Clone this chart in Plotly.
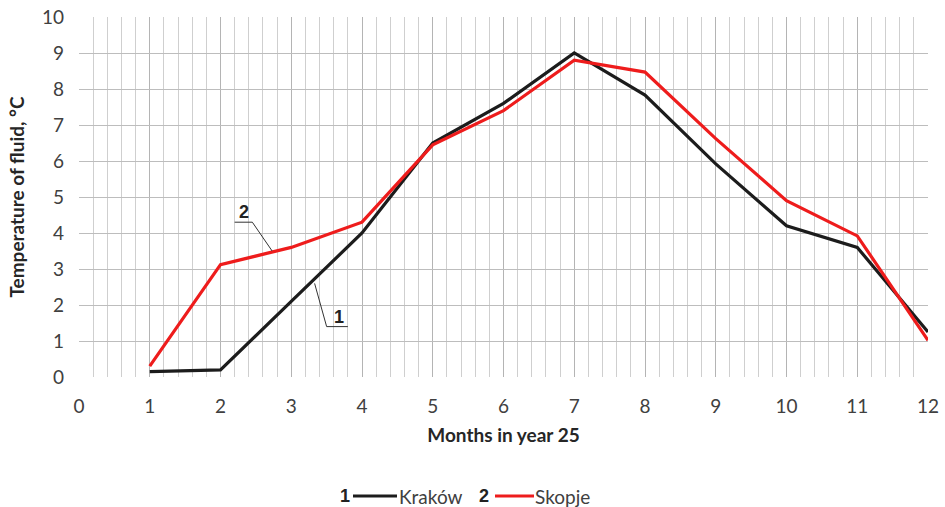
import plotly.graph_objects as go

months = [1, 2, 3, 4, 5, 6, 7, 8, 9, 10, 11, 12]
krakow = [0.15, 0.2, 2.1, 4.0, 6.5, 7.6, 9.0, 7.83, 5.92, 4.2, 3.6, 1.25]
skopje = [0.3, 3.12, 3.6, 4.3, 6.45, 7.4, 8.8, 8.47, 6.62, 4.9, 3.92, 1.02]
x_ticks = list(range(0, 13))
y_ticks = list(range(0, 11))

tick_font = dict(family="Lato, Open Sans, sans-serif", size=19, color="#404040")
title_font = dict(family="Lato, Liberation Sans, sans-serif", size=19, color="#262626")

fig = go.Figure()
fig.add_trace(go.Scatter(x=months, y=krakow, mode="lines", name="Kraków",
                         line=dict(color="#1c1c1c", width=3.2), showlegend=False))
fig.add_trace(go.Scatter(x=months, y=skopje, mode="lines", name="Skopje",
                         line=dict(color="#ee1c1c", width=3.2), showlegend=False))

fig.update_xaxes(range=[0, 12], tickvals=x_ticks, showgrid=True, gridcolor="#b4b4b4", gridwidth=1.3,
                 minor=dict(dtick=0.2, showgrid=True, gridcolor="#cfcfcf", gridwidth=1),
                 zeroline=False, showline=False, ticks="", tickfont=tick_font,
                 ticklabelstandoff=16, automargin=False,
                 title=dict(text="<b>Months in year 25</b>", font=title_font, standoff=12))
fig.update_yaxes(range=[0, 10], tickvals=y_ticks, showgrid=True, gridcolor="#bdbdbd", gridwidth=1.3,
                 zeroline=False, showline=False, ticks="", tickfont=tick_font,
                 ticklabelstandoff=14, automargin=False,
                 title=dict(text="<b>Temperature of fluid, °C</b>", font=title_font, standoff=12))

# leader lines with curve numbers
leader = dict(color="#333333", width=1)
fig.add_shape(type="line", x0=2.2, y0=4.3, x1=2.45, y1=4.3, line=leader)
fig.add_shape(type="line", x0=2.45, y0=4.3, x1=2.73, y1=3.5, line=leader)
fig.add_annotation(x=2.33, y=4.3, text="<b>2</b>", showarrow=False, yanchor="bottom", yshift=-2,
                   font=dict(family="Liberation Sans, Arial", size=18, color="#222222"))
fig.add_shape(type="line", x0=3.5, y0=1.4, x1=3.8, y1=1.4, line=leader)
fig.add_shape(type="line", x0=3.5, y0=1.4, x1=3.33, y1=2.6, line=leader)
fig.add_annotation(x=3.67, y=1.4, text="<b>1</b>", showarrow=False, yanchor="bottom", yshift=-2,
                   font=dict(family="Liberation Sans, Arial", size=18, color="#222222"))

# legend drawn below the plot
def px_x(p):
    return (p - 79) / 849

leg_y = -(496 - 377) / 360
lg_num = dict(family="Liberation Sans, Arial", size=18, color="#222222")
lg_txt = dict(family="Lato, Open Sans, sans-serif", size=19, color="#404040")
fig.add_annotation(xref="paper", yref="paper", x=px_x(338), y=leg_y, yanchor="middle",
                   text="<b>1</b>", showarrow=False, font=lg_num)
fig.add_shape(type="line", xref="paper", yref="paper", x0=px_x(353), x1=px_x(397), y0=leg_y, y1=leg_y,
              line=dict(color="#1c1c1c", width=3))
fig.add_annotation(xref="paper", yref="paper", x=px_x(397), y=leg_y, xanchor="left", yanchor="middle",
                   text="Kraków", showarrow=False, font=lg_txt)
fig.add_annotation(xref="paper", yref="paper", x=px_x(484), y=leg_y, yanchor="middle",
                   text="<b>2</b>", showarrow=False, font=lg_num)
fig.add_shape(type="line", xref="paper", yref="paper", x0=px_x(495), x1=px_x(534), y0=leg_y, y1=leg_y,
              line=dict(color="#ee1c1c", width=3))
fig.add_annotation(xref="paper", yref="paper", x=px_x(533), y=leg_y, xanchor="left", yanchor="middle",
                   text="Skopje", showarrow=False, font=lg_txt)

fig.update_layout(width=945, height=507, margin=dict(l=79, r=17, t=17, b=130),
                  plot_bgcolor="white", paper_bgcolor="white", showlegend=False)

fig.write_html("out.html")
